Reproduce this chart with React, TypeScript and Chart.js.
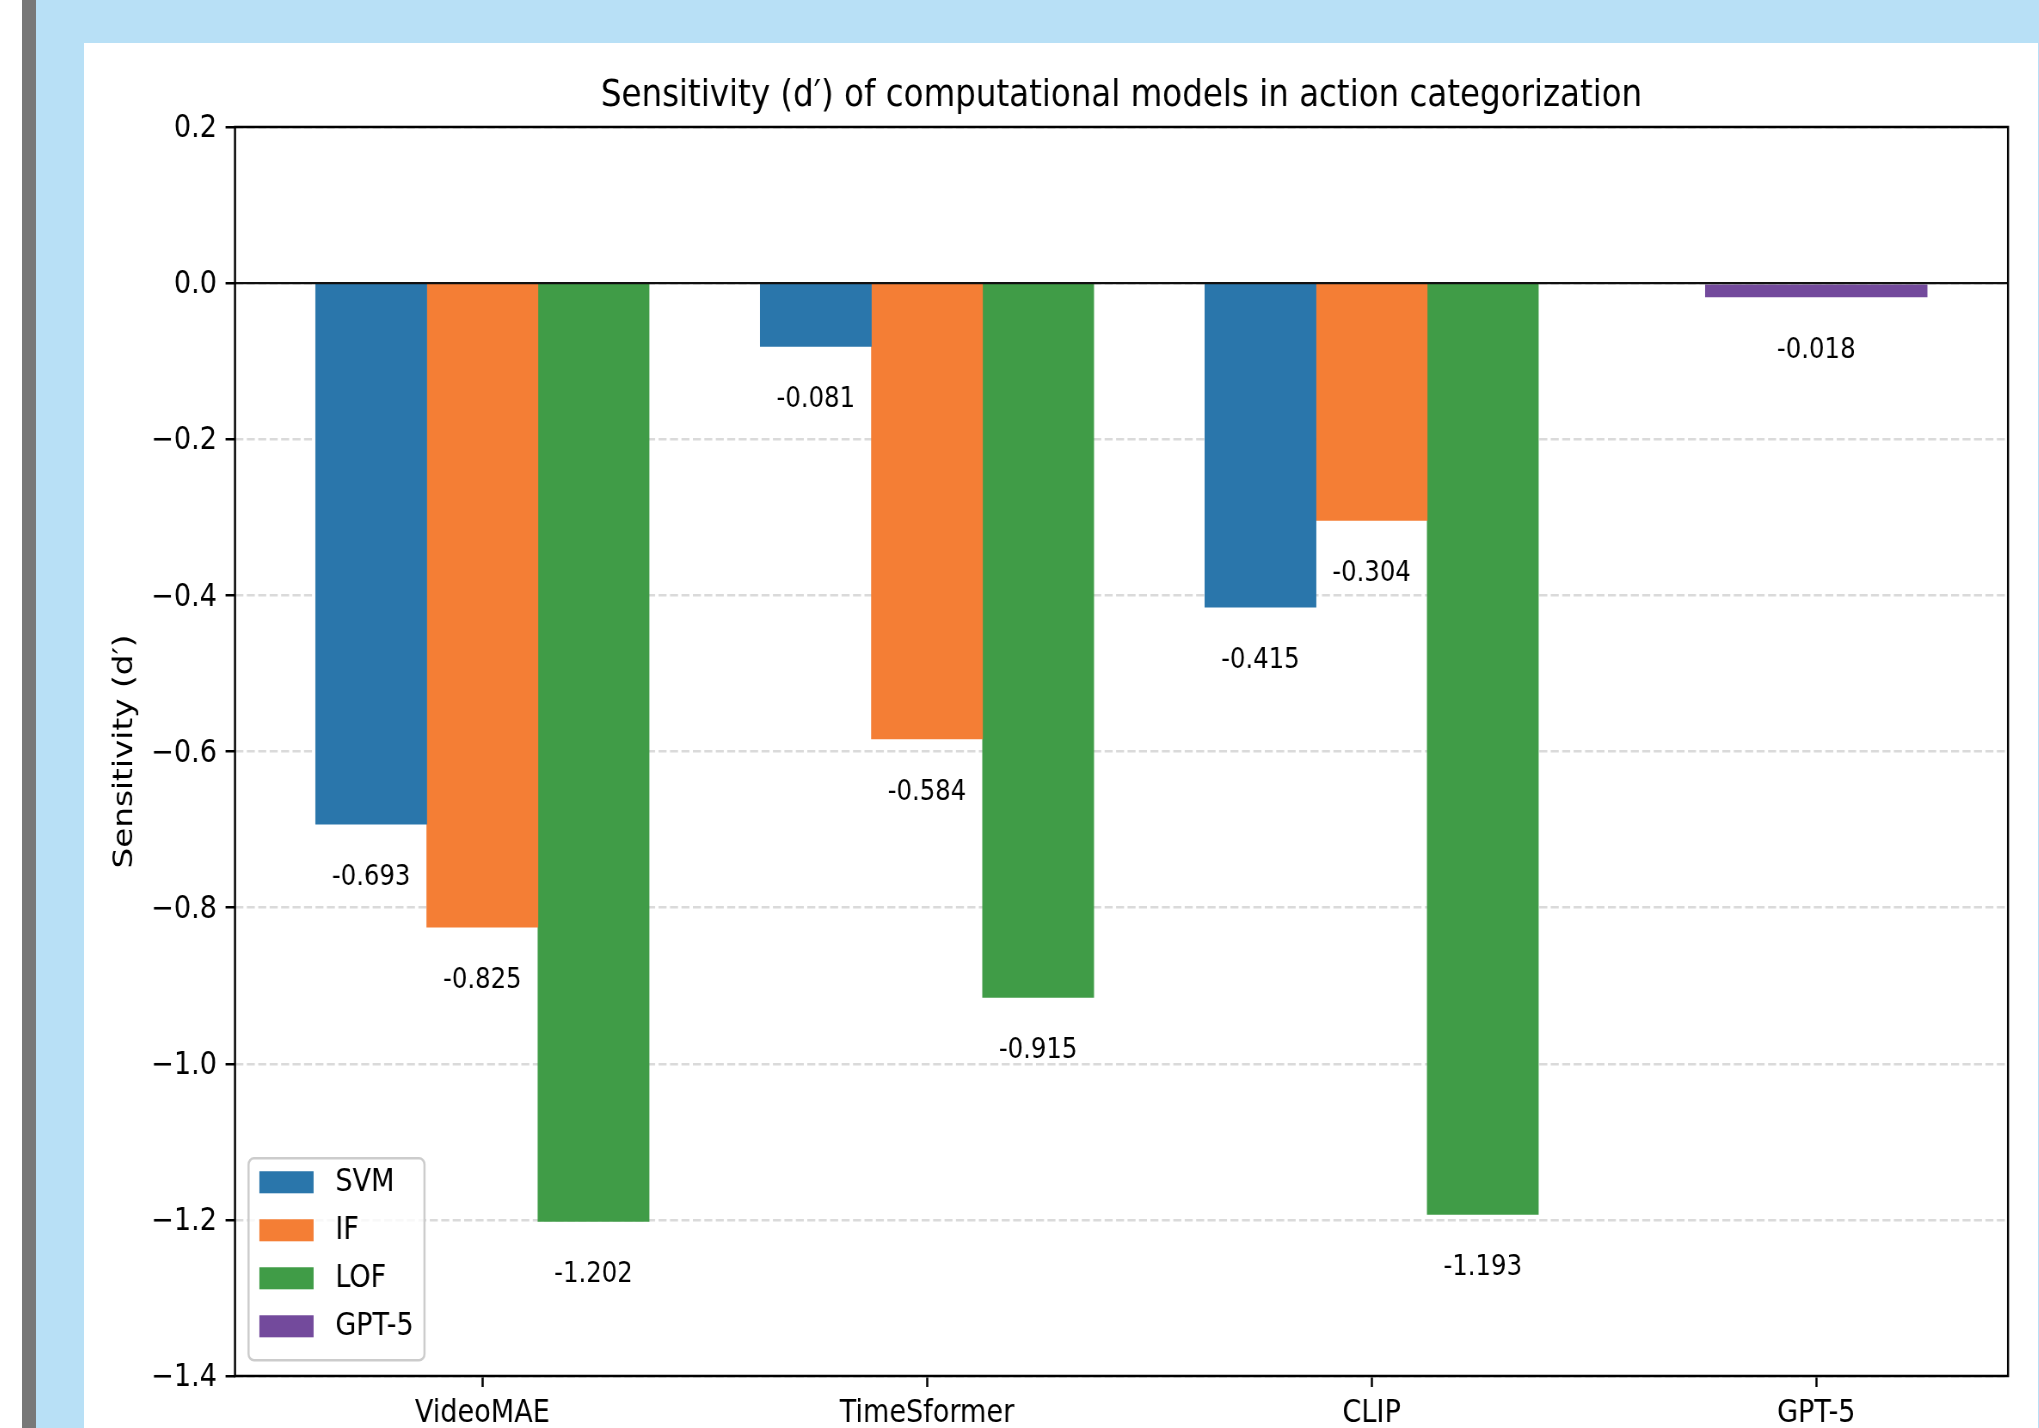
import React, { useEffect, useRef } from 'react';
import { Chart, registerables } from 'chart.js';

Chart.register(...registerables);

// ---------------- data ----------------
const categories = ['VideoMAE', 'TimeSformer', 'CLIP', 'GPT-5'];
const seriesNames = ['SVM', 'IF', 'LOF', 'GPT-5'];
const svmValues = [-0.693, -0.081, -0.415];
const ifValues = [-0.825, -0.584, -0.304];
const lofValues = [-1.202, -0.915, -1.193];
const gpt5Values = [-0.018];
const yTickValues = [0.2, 0.0, -0.2, -0.4, -0.6, -0.8, -1.0, -1.2, -1.4];
const seriesColors = ['#2a76ab', '#f47e35', '#409c47', '#734a9c'];

const TITLE = 'Sensitivity (d\u2032) of computational models in action categorization';
const Y_LABEL = 'Sensitivity (d\u2032)';

// ---------------- layout ----------------
const SX = 0.86; // horizontal squeeze of the reference picture
const PANEL_X = 84;
const PANEL_Y = 43;
const PANEL_W = 1954;
const CANVAS_W = Math.round(PANEL_W / SX);
const CANVAS_H = 1445;
const AX_L = (235 - PANEL_X) / SX;
const AX_R = (2008 - PANEL_X) / SX;
const AX_T = 127 - PANEL_Y;
const AX_B = 1376 - PANEL_Y;

const FONT = 'DejaVu Sans';
const TICK_FS = 31.5;
const YLABEL_FS = 32.7;
const TITLE_FS = 37.8;
const VALUE_FS = 28.35;
const LEGEND_FS = 31.5;
const LINE_W = 2.5;

const BAR_W = 0.25;
const LABEL_GAP = 0.05;
const xLo = -1.5 * BAR_W;
const xHi = categories.length - 1 + BAR_W;
const xPad = 0.05 * (xHi - xLo);

const TITLE_PAD_TOP = 30.5;

const fmtTick = (v: number) => {
  const r = Math.round(v * 10) / 10;
  if (Math.abs(r) < 1e-9) return '0.0';
  return (r < 0 ? '\u2212' : '') + Math.abs(r).toFixed(1);
};

const decorPlugin = {
  id: 'decor',
  afterDatasetsDraw(chart: any) {
    const { ctx, chartArea: a, scales } = chart;
    const ys = scales.y;
    ctx.save();
    // zero line
    const y0 = ys.getPixelForValue(0);
    ctx.strokeStyle = '#111';
    ctx.lineWidth = 2.2;
    ctx.beginPath();
    ctx.moveTo(a.left, y0);
    ctx.lineTo(a.right, y0);
    ctx.stroke();

    // value labels
    ctx.font = `${VALUE_FS}px "${FONT}"`;
    ctx.fillStyle = '#000';
    ctx.textAlign = 'center';
    ctx.textBaseline = 'alphabetic';
    chart.data.datasets.forEach((ds: any, di: number) => {
      const meta = chart.getDatasetMeta(di);
      meta.data.forEach((bar: any, i: number) => {
        const v = ds.data[i].y;
        const py = ys.getPixelForValue(v - LABEL_GAP) + 0.76 * VALUE_FS;
        ctx.fillText(v.toFixed(3), bar.x, py);
      });
    });

    // spines
    ctx.strokeStyle = '#000';
    ctx.lineWidth = LINE_W;
    ctx.strokeRect(a.left, a.top, a.right - a.left, a.bottom - a.top);

    // legend (lower left, inside axes)
    const em = LEGEND_FS;
    ctx.font = `${LEGEND_FS}px "${FONT}"`;
    const labels = chart.data.datasets.map((d: any) => d.label as string);
    const maxTw = Math.max(...labels.map((t: string) => ctx.measureText(t).width));
    const frameL = a.left + 0.5 * em;
    const frameB = a.bottom - 0.5 * em;
    const frameH = 6.41 * em;
    const frameT = frameB - frameH;
    const frameW = 0.4 * em + 2 * em + 0.8 * em + maxTw + 0.4 * em;
    ctx.beginPath();
    ctx.roundRect(frameL, frameT, frameW, frameH, 0.2 * em);
    ctx.fillStyle = 'rgba(255,255,255,0.8)';
    ctx.fill();
    ctx.strokeStyle = '#cccccc';
    ctx.lineWidth = 2.5;
    ctx.stroke();
    const handleL = frameL + 0.4 * em;
    const textL = handleL + 2 * em + 0.8 * em;
    ctx.textAlign = 'left';
    ctx.textBaseline = 'middle';
    chart.data.datasets.forEach((ds: any, i: number) => {
      const cy = frameT + 0.76 * em + i * 1.524 * em;
      ctx.fillStyle = ds.backgroundColor;
      ctx.fillRect(handleL, cy - 0.35 * em, 2 * em, 0.7 * em);
      ctx.fillStyle = '#000';
      ctx.fillText(ds.label, textL, cy + 1);
    });
    ctx.restore();
  },
};

export default function App() {
  const ref = useRef<HTMLCanvasElement>(null);

  useEffect(() => {
    document.body.style.margin = '0';
    Chart.defaults.font.family = FONT;
    const gptIndex = categories.indexOf('GPT-5');
    const barOpts = { grouped: false, barPercentage: 1, borderWidth: 0 };
    const chart = new Chart(ref.current as HTMLCanvasElement, {
      type: 'bar',
      data: {
        datasets: [
          { label: seriesNames[0], data: svmValues.map((v, i) => ({ x: i - BAR_W, y: v })), backgroundColor: seriesColors[0], categoryPercentage: 1, ...barOpts },
          { label: seriesNames[1], data: ifValues.map((v, i) => ({ x: i, y: v })), backgroundColor: seriesColors[1], categoryPercentage: 1, ...barOpts },
          { label: seriesNames[2], data: lofValues.map((v, i) => ({ x: i + BAR_W, y: v })), backgroundColor: seriesColors[2], categoryPercentage: 1, ...barOpts },
          { label: seriesNames[3], data: gpt5Values.map((v) => ({ x: gptIndex, y: v })), backgroundColor: seriesColors[3], categoryPercentage: 2, ...barOpts },
        ],
      } as any,
      options: {
        responsive: false,
        animation: false,
        devicePixelRatio: 1,
        events: [],
        layout: { padding: { left: 0, right: CANVAS_W - AX_R, top: 0, bottom: 0 } },
        plugins: {
          legend: { display: false },
          tooltip: { enabled: false },
          title: {
            display: true,
            text: TITLE,
            fullSize: false,
            color: '#000',
            font: { family: FONT, size: TITLE_FS, weight: 'normal', lineHeight: 1.2 },
            padding: { top: TITLE_PAD_TOP, bottom: AX_T - TITLE_PAD_TOP - TITLE_FS * 1.2 },
          },
        },
        scales: {
          x: {
            type: 'linear',
            min: xLo - xPad,
            max: xHi + xPad,
            offset: false,
            grid: {
              display: true,
              drawOnChartArea: false,
              drawTicks: true,
              offset: false,
              tickLength: 11,
              tickColor: '#000',
              tickWidth: LINE_W,
              color: '#000',
            },
            border: { display: false },
            ticks: {
              autoSkip: false,
              maxRotation: 0,
              minRotation: 0,
              padding: 7.6,
              color: '#000',
              font: { family: FONT, size: TICK_FS },
              callback: (v: any) => categories[Math.round(Number(v))] ?? '',
            },
            afterBuildTicks: (s: any) => {
              s.ticks = categories.map((_, i) => ({ value: i }));
            },
            afterFit: (s: any) => {
              s.height = CANVAS_H - AX_B;
            },
          },
          y: {
            type: 'linear',
            min: yTickValues[yTickValues.length - 1],
            max: yTickValues[0],
            grid: {
              color: '#dadada',
              lineWidth: LINE_W,
              drawTicks: true,
              tickLength: 11,
              tickColor: '#000',
              tickWidth: LINE_W,
              tickBorderDash: [],
            },
            border: { display: false, dash: [9.3, 4] },
            ticks: {
              padding: 10,
              labelOffset: 2,
              color: '#000',
              font: { family: FONT, size: TICK_FS },
              callback: (v: any) => fmtTick(Number(v)),
            },
            afterBuildTicks: (s: any) => {
              s.ticks = yTickValues.map((v) => ({ value: v }));
            },
            title: {
              display: true,
              text: Y_LABEL,
              color: '#000',
              font: { family: FONT, size: YLABEL_FS, lineHeight: 1.2 },
              padding: { top: 28, bottom: 0 },
            },
            afterFit: (s: any) => {
              s.width = AX_L;
            },
          },
        },
      } as any,
      plugins: [decorPlugin],
    });
    return () => chart.destroy();
  }, []);

  return (
    <div style={{ position: 'fixed', left: 0, top: 0, width: 2039, height: 1428, overflow: 'hidden', background: '#fff' }}>
      <div style={{ position: 'absolute', left: 22, top: 0, width: 14, height: '100%', background: '#787878' }} />
      <div style={{ position: 'absolute', left: 36, top: 0, right: 0, bottom: 0, background: '#b8e0f6' }} />
      <div style={{ position: 'absolute', left: PANEL_X, top: PANEL_Y, width: PANEL_W, bottom: 0, background: '#fff', overflow: 'hidden' }}>
        <div style={{ width: CANVAS_W, height: CANVAS_H, transform: `scaleX(${SX})`, transformOrigin: '0 0', filter: 'blur(0.5px)' }}>
          <canvas ref={ref} width={CANVAS_W} height={CANVAS_H} style={{ display: 'block', width: CANVAS_W, height: CANVAS_H }} />
        </div>
      </div>
    </div>
  );
}
